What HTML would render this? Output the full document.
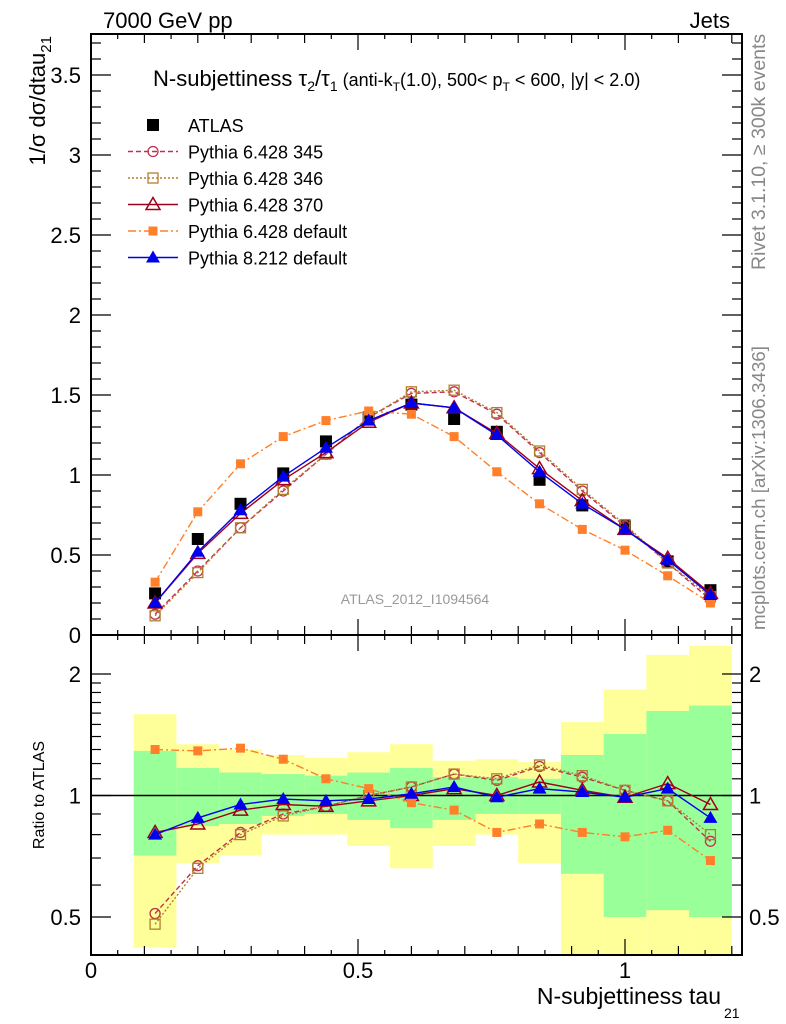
<!DOCTYPE html>
<html><head><meta charset="utf-8">
<style>
html,body{margin:0;padding:0;background:#fff;}
svg{display:block;font-family:"Liberation Sans",sans-serif;}
</style></head>
<body>
<svg id="chart" width="786" height="1024" viewBox="0 0 786 1024">
<text x="103" y="28" font-size="22">7000 GeV pp</text>
<text x="730" y="28" font-size="22" text-anchor="end">Jets</text>
<text transform="translate(45,36) rotate(-90)" font-size="22" text-anchor="end">1/σ dσ/dtau<tspan font-size="15" dy="6">21</tspan></text>
<text transform="translate(44,795) rotate(-90)" font-size="16" text-anchor="middle">Ratio to ATLAS</text>
<text transform="translate(765,630) rotate(-90)" font-size="18.8" fill="#888" text-anchor="start">mcplots.cern.ch [arXiv:1306.3436]</text>
<text transform="translate(765,270) rotate(-90)" font-size="19.5" fill="#888" text-anchor="start">Rivet 3.1.10, ≥ 300k events</text>
<text x="153" y="86" font-size="22">N-subjettiness τ<tspan font-size="14" dy="5">2</tspan><tspan dy="-5">/τ</tspan><tspan font-size="14" dy="5">1</tspan><tspan font-size="18" dy="-5"> (anti-k</tspan><tspan font-size="12" dy="5">T</tspan><tspan font-size="18" dy="-5">(1.0), 500&lt; p</tspan><tspan font-size="12" dy="5">T</tspan><tspan font-size="18" dy="-5"> &lt; 600, |y| &lt; 2.0)</tspan></text>
<text x="415" y="604" font-size="14" fill="#999" text-anchor="middle">ATLAS_2012_I1094564</text>
<text x="721" y="1004" font-size="23" text-anchor="end">N-subjettiness tau</text>
<text x="724" y="1018" font-size="14">21</text>
<g id="g"></g>
</svg>
<script>
const binEdgesLo = [0.08,0.16,0.24,0.32,0.40,0.48,0.56,0.64,0.72,0.80,0.88,0.96,1.04,1.12];
const binCenters = [0.12,0.20,0.28,0.36,0.44,0.52,0.60,0.68,0.76,0.84,0.92,1.00,1.08,1.16];
const atlas   = [0.26,0.60,0.82,1.01,1.21,1.36,1.44,1.35,1.27,0.97,0.81,0.68,0.46,0.28];
const py345   = [0.13,0.40,0.67,0.90,1.13,1.36,1.51,1.52,1.38,1.14,0.90,0.68,0.45,0.22];
const py346   = [0.12,0.39,0.67,0.91,1.13,1.36,1.52,1.53,1.39,1.15,0.91,0.69,0.45,0.24];
const py370   = [0.20,0.51,0.76,0.97,1.14,1.33,1.45,1.42,1.26,1.04,0.84,0.66,0.48,0.26];
const pydef   = [0.33,0.77,1.07,1.24,1.34,1.40,1.38,1.24,1.02,0.82,0.66,0.53,0.37,0.20];
const py8     = [0.20,0.52,0.78,0.99,1.17,1.34,1.45,1.42,1.25,1.02,0.82,0.66,0.47,0.25];
const r345 = [0.51,0.67,0.81,0.90,0.94,1.00,1.05,1.13,1.09,1.18,1.11,1.03,0.97,0.77];
const r346 = [0.48,0.66,0.80,0.89,0.94,1.00,1.05,1.13,1.10,1.19,1.12,1.03,0.97,0.80];
const r370 = [0.81,0.85,0.92,0.95,0.94,0.97,1.00,1.04,1.00,1.08,1.03,0.99,1.07,0.95];
const rdef = [1.30,1.29,1.31,1.23,1.10,1.04,0.96,0.92,0.81,0.85,0.81,0.79,0.82,0.69];
const r8   = [0.80,0.88,0.95,0.98,0.97,0.98,1.01,1.05,0.99,1.04,1.02,0.99,1.04,0.88];
const yelHi = [1.59,1.34,1.30,1.26,1.24,1.28,1.34,1.22,1.23,1.21,1.52,1.83,2.23,2.35];
const yelLo = [0.42,0.68,0.71,0.80,0.80,0.75,0.66,0.75,0.80,0.68,0.30,0.30,0.30,0.30];
const grnHi = [1.29,1.17,1.14,1.13,1.12,1.14,1.17,1.11,1.11,1.10,1.26,1.42,1.62,1.67];
const grnLo = [0.71,0.84,0.85,0.89,0.90,0.87,0.83,0.87,0.90,0.90,0.64,0.50,0.52,0.50];
const xTickLabels = [0,0.5,1];
const yTickLabels = [0.5,1,1.5,2,2.5,3,3.5];
const rTickLabels = [0.5,1,2];

const L=91,R=742,T=34,MB=635,RB=955;
const X1=(R-L)/534;
const sx=v=>L+v*534;
const sy=v=>MB-v*160;
const RY1=795.5,RPO=121.5;
const sr=v=>RY1-Math.log2(v)*RPO;
const NS='http://www.w3.org/2000/svg';
const g=document.getElementById('g');
function el(t,a,p){const e=document.createElementNS(NS,t);for(const k in a)e.setAttribute(k,a[k]);(p||g).appendChild(e);return e;}

const defs=el('defs',{});
const cp=el('clipPath',{id:'rc'},defs);el('rect',{x:L,y:MB,width:R-L,height:RB-MB},cp);
const cm=el('clipPath',{id:'mc'},defs);el('rect',{x:L,y:T,width:R-L,height:MB-T},cm);

const bands=el('g',{'clip-path':'url(#rc)'});
binEdgesLo.forEach((lo,i)=>{
  const x=sx(lo),w=sx(lo+0.08)-x;
  const y=el('rect',{x:x,y:sr(yelHi[i]),width:w,height:sr(yelLo[i])-sr(yelHi[i]),fill:'#ffff99'},bands);
  
  
  const gr=el('rect',{x:x,y:sr(grnHi[i]),width:w,height:sr(grnLo[i])-sr(grnHi[i]),fill:'#99ff99'},bands);
  
  
});
el('line',{x1:L,x2:R,y1:sr(1),y2:sr(1),stroke:'#000','stroke-width':1.5});

function marker(p,type,x,y,c){
  let m;
  if(type==='sq')m=el('rect',{x:x-6,y:y-6,width:12,height:12,fill:'#000'},p);
  else if(type==='fsq')m=el('rect',{x:x-4.5,y:y-4.5,width:9,height:9,fill:c},p);
  else if(type==='osq')m=el('rect',{x:x-5,y:y-5,width:10,height:10,fill:'none',stroke:c,'stroke-width':1.3},p);
  else if(type==='oc')m=el('circle',{cx:x,cy:y,r:5,fill:'none',stroke:c,'stroke-width':1.3},p);
  else if(type==='ot')m=el('path',{d:`M${x},${y-7}L${x+7},${y+5}L${x-7},${y+5}Z`,fill:'none',stroke:c,'stroke-width':1.5},p);
  else m=el('path',{d:`M${x},${y-7}L${x+7},${y+5}L${x-7},${y+5}Z`,fill:c},p);
  return m;
}
const series=[
 {n:'pythia-6428-345',c:'#c03050',d:'5,3',m:'oc',main:py345,r:r345},
 {n:'pythia-6428-346',c:'#b08030',d:'2,2',m:'osq',main:py346,r:r346},
 {n:'pythia-6428-370',c:'#a00018',d:'',m:'ot',main:py370,r:r370},
 {n:'pythia-6428-default',c:'#ff7f2a',d:'8,3,2,3',m:'fsq',main:pydef,r:rdef},
 {n:'pythia-8212-default',c:'#0000ee',d:'',m:'ft',main:py8,r:r8},
];
function drawSeries(s,vals,ys,clip,tag){
  const gg=el('g',{'clip-path':clip});
  
  
  const pts=vals.map((v,i)=>sx(binCenters[i])+','+ys(v)).join(' ');
  el('polyline',{points:pts,fill:'none',stroke:s.c,'stroke-width':1.4,'stroke-dasharray':s.d},gg);
  vals.forEach((v,i)=>{const m=marker(gg,s.m,sx(binCenters[i]),ys(v),s.c);
    
    });
}
const ag=el('g',{});


atlas.forEach((v,i)=>{const m=marker(ag,'sq',sx(binCenters[i]),sy(v));
  
  });
series.forEach(s=>{drawSeries(s,s.main,sy,'url(#mc)','main');drawSeries(s,s.r,sr,'url(#rc)','ratio');});

el('rect',{x:L,y:T,width:R-L,height:MB-T,fill:'none',stroke:'#000','stroke-width':2});
el('rect',{x:L,y:MB,width:R-L,height:RB-MB,fill:'none',stroke:'#000','stroke-width':2});

for(let k=0;k*0.05<=X1+1e-9;k++){
  const v=k*0.05,x=sx(v);const major=k%10===0;const med=k%2===0;
  const len=major?16:(med?9:5);
  [T,MB].forEach(y0=>el('line',{x1:x,x2:x,y1:y0,y2:y0+len,stroke:'#000','stroke-width':1.2}));
  [MB,RB].forEach(y0=>el('line',{x1:x,x2:x,y1:y0,y2:y0-len,stroke:'#000','stroke-width':1.2}));
}
xTickLabels.forEach(v=>{const t=el('text',{x:sx(v),y:978,'font-size':22,'text-anchor':'middle'});t.textContent=v;
  
  });
for(let k=0;k*0.1<=3.75;k++){
  const v=k*0.1,y=sy(v);const major=k%5===0;const len=major?20:10;
  el('line',{x1:L,x2:L+len,y1:y,y2:y,stroke:'#000','stroke-width':1.2});
  el('line',{x1:R,x2:R-len,y1:y,y2:y,stroke:'#000','stroke-width':1.2});
}
[0].concat(yTickLabels).forEach(v=>{const t=el('text',{x:81,y:sy(v)+8,'font-size':22,'text-anchor':'end'});t.textContent=v;
  
  });
[0.4,0.5,0.6,0.7,0.8,0.9,1,2,1.1,1.2,1.3,1.4,1.5,1.6,1.7,1.8,1.9].forEach(v=>{
  const y=sr(v);if(y<MB||y>RB)return;const major=rTickLabels.includes(v);const len=major?20:10;
  el('line',{x1:L,x2:L+len,y1:y,y2:y,stroke:'#000','stroke-width':1.2});
  el('line',{x1:R,x2:R-len,y1:y,y2:y,stroke:'#000','stroke-width':1.2});
});
rTickLabels.forEach(v=>{
  const t=el('text',{x:81,y:sr(v)+8,'font-size':22,'text-anchor':'end'});t.textContent=v;
  
  
  const t2=el('text',{x:749,y:sr(v)+8,'font-size':22});t2.textContent=v;
  
  
});
const lg=el('g',{});


const legNames=['ATLAS','Pythia 6.428 345','Pythia 6.428 346','Pythia 6.428 370','Pythia 6.428 default','Pythia 8.212 default'];
legNames.forEach((nm,i)=>{
  const y=125+i*26.5;
  const e=el('g',{},lg);
  
  
  if(i===0)marker(e,'sq',153,y);
  else{const s=series[i-1];
    el('line',{x1:128,x2:178,y1:y,y2:y,stroke:s.c,'stroke-width':1.4,'stroke-dasharray':s.d},e);
    marker(e,s.m,153,y,s.c);}
  const t=el('text',{x:188,y:y+7,'font-size':18},e);t.textContent=nm;
});
</script>
</body></html>
